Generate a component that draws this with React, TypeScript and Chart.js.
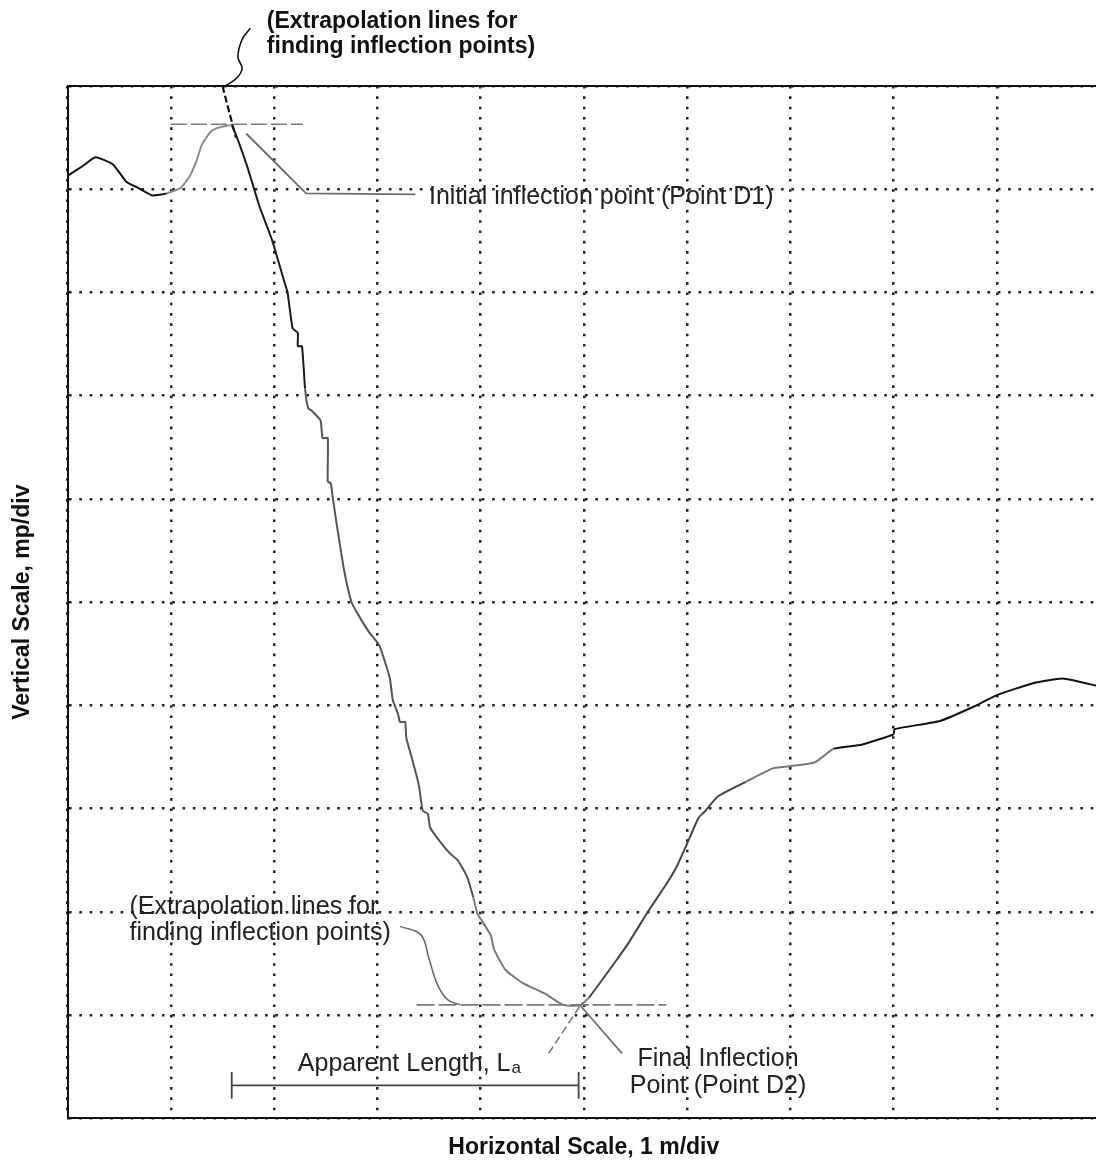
import React, { useEffect, useRef } from "react";
import { Chart, registerables } from "chart.js";

Chart.register(...registerables);

const FONT = '"Liberation Sans", Arial, Helvetica, sans-serif';

// Axis ranges (grid divisions: 1 m/div horizontally, 1 mp/div vertically)
const xRange = [0, 10];
const yRange = [0, 10];
const xAxisTitle = "Horizontal Scale, 1 m/div";
const yAxisTitle = "Vertical Scale, mp/div";

// Measured profile, in grid divisions
const profileX = [
  0, 0.14, 0.27, 0.44, 0.57, 0.67, 0.82, 0.96, 1.09, 1.18, 1.25, 1.3, 1.38, 1.44, 1.52, 1.59,
  1.73, 1.86, 1.98, 2.08, 2.13, 2.18, 2.23, 2.23, 2.27, 2.3, 2.33, 2.37, 2.45, 2.47, 2.52, 2.52,
  2.55, 2.57, 2.62, 2.68, 2.75, 2.82, 2.92, 3.02, 3.12, 3.15, 3.2, 3.22, 3.27, 3.28, 3.34, 3.39,
  3.41, 3.44, 3.49, 3.51, 3.6, 3.7, 3.78, 3.87, 3.93, 3.97, 4.01, 4.1, 4.13, 4.24, 4.41, 4.62,
  4.73, 4.8, 4.9, 4.97, 5.05, 5.3, 5.44, 5.62, 5.8, 5.9, 6.0, 6.11, 6.17, 6.3, 6.57, 6.83, 6.99,
  7.24, 7.42, 7.69, 8.0, 8.01, 8.45, 8.78, 9.0, 9.37, 9.64, 9.97, 10,
];
const profileY = [
  9.13, 9.22, 9.31, 9.24, 9.07, 9.02, 8.94, 8.96, 9.01, 9.12, 9.28, 9.43, 9.55, 9.59, 9.61, 9.62,
  9.25, 8.83, 8.51, 8.17, 8.0, 7.65, 7.61, 7.48, 7.48, 7.07, 6.88, 6.85, 6.76, 6.59, 6.59, 6.17,
  6.15, 6.0, 5.67, 5.3, 5.0, 4.87, 4.71, 4.58, 4.27, 4.05, 3.92, 3.84, 3.84, 3.69, 3.47, 3.28,
  3.18, 2.98, 2.95, 2.82, 2.69, 2.57, 2.5, 2.34, 2.14, 1.98, 1.92, 1.77, 1.64, 1.44, 1.31, 1.21,
  1.14, 1.1, 1.09, 1.1, 1.17, 1.51, 1.71, 2.0, 2.27, 2.44, 2.66, 2.91, 2.97, 3.12, 3.26, 3.39, 3.41,
  3.45, 3.58, 3.62, 3.72, 3.77, 3.85, 3.99, 4.1, 4.22, 4.26, 4.19, 4.18,
];

// Construction / annotation lines (grid divisions)
const topExtrapHX = [1.0, 2.28];
const topExtrapHY = [9.63, 9.63];
const topExtrapSlopeX = [1.5, 1.63];
const topExtrapSlopeY = [10.0, 9.5];
const topBracketX = [1.77, 1.69, 1.65, 1.69, 1.64, 1.53];
const topBracketY = [10.56, 10.45, 10.28, 10.17, 10.08, 10.0];
const d1LeaderX = [1.73, 2.31, 3.37];
const d1LeaderY = [9.54, 8.96, 8.95];
const botExtrapHX = [3.38, 5.8];
const botExtrapHY = [1.1, 1.1];
const botExtrapSlopeX = [4.66, 4.97];
const botExtrapSlopeY = [0.63, 1.1];
const d2LeaderX = [4.96, 5.37];
const d2LeaderY = [1.1, 0.63];
const botBracketX = [3.22, 3.42, 3.5, 3.58, 3.68, 3.8];
const botBracketY = [1.86, 1.78, 1.55, 1.3, 1.15, 1.1];
const lengthBarX = [1.59, 4.95];
const lengthBarY = [0.32, 0.32];
const lengthTickLX = [1.59, 1.59];
const lengthTickRX = [4.95, 4.95];
const lengthTickY = [0.19, 0.45];

// Text annotations
const labelTexts = [
  "(Extrapolation lines for",
  "finding inflection points)",
  "Initial inflection point (Point D1)",
  "(Extrapolation lines for",
  "finding inflection points)",
  "Final Inflection",
  "Point (Point D2)",
];
const labelX = [1.93, 1.93, 3.5, 0.6, 0.6, 6.3, 6.3];
const labelY = [10.62, 10.38, 8.92, 2.05, 1.79, 0.57, 0.31];
const apparentText = "Apparent Length, L";
const apparentSub = "a";
const apparentX = 2.23;
const apparentY = 0.53;

const pts = (xs: number[], ys: number[]) => xs.map((x, i) => ({ x, y: ys[i] }));

function profileColor(x: number): string {
  if (x < 0.85) return "#111";
  if (x < 1.55) return "#8a8a8a";
  if (x < 2.3) return "#1c1c1c";
  if (x < 3.9) return "#555";
  if (x < 5.0) return "#7a7a7a";
  if (x < 6.4) return "#444";
  if (x < 7.3) return "#7a7a7a";
  return "#111";
}

const textPlugin = {
  id: "annotationText",
  afterDatasetsDraw(chart: any) {
    const { ctx } = chart;
    const xs = chart.scales.x;
    const ys = chart.scales.y;
    ctx.save();
    ctx.textBaseline = "middle";
    labelTexts.forEach((t, i) => {
      const top = i < 2;
      ctx.font = top ? `bold 23px ${FONT}` : `25px ${FONT}`;
      ctx.fillStyle = top ? "#111" : "#222";
      ctx.textAlign = i >= 5 ? "center" : "left";
      ctx.fillText(t, xs.getPixelForValue(labelX[i]), ys.getPixelForValue(labelY[i]));
    });
    ctx.font = `25px ${FONT}`;
    ctx.fillStyle = "#222";
    ctx.textAlign = "left";
    const px = xs.getPixelForValue(apparentX);
    const py = ys.getPixelForValue(apparentY);
    ctx.fillText(apparentText, px, py);
    const w = ctx.measureText(apparentText).width;
    ctx.font = `17px ${FONT}`;
    ctx.fillText(apparentSub, px + w + 1, py + 5);
    ctx.restore();
  },
};

export default function App() {
  const ref = useRef<HTMLCanvasElement | null>(null);
  useEffect(() => {
    document.body.style.margin = "0";
    const canvas = ref.current;
    if (!canvas) return;
    const thin = (data: any, color: string, dash: number[] = [], width = 1.6, clip: any = undefined) => ({
      type: "line" as const,
      data,
      borderColor: color,
      borderWidth: width,
      borderDash: dash,
      pointRadius: 0,
      tension: 0,
      fill: false,
      xAxisID: "x",
      yAxisID: "y",
      ...(clip !== undefined ? { clip } : {}),
    });
    const chart = new Chart(canvas, {
      type: "line",
      data: {
        datasets: [
          {
            data: pts(profileX, profileY),
            borderColor: "#222",
            borderWidth: 2,
            pointRadius: 0,
            tension: 0.15,
            fill: false,
            xAxisID: "x",
            yAxisID: "y",
            segment: {
              borderColor: (c: any) => profileColor(c.p0.parsed.x),
            },
          } as any,
          thin(pts(topExtrapHX, topExtrapHY), "#7a7a7a", [16, 4]),
          thin(pts(topExtrapSlopeX, topExtrapSlopeY), "#111", [7, 3], 2.2, false),
          { ...thin(pts(topBracketX, topBracketY), "#111", [], 1.6, false), tension: 0.4 },
          thin(pts(d1LeaderX, d1LeaderY), "#6a6a6a", [], 1.8),
          thin(pts(botExtrapHX, botExtrapHY), "#7a7a7a", [18, 4]),
          thin(pts(botExtrapSlopeX, botExtrapSlopeY), "#7a7a7a", [8, 4]),
          thin(pts(d2LeaderX, d2LeaderY), "#6a6a6a"),
          { ...thin(pts(botBracketX, botBracketY), "#6a6a6a"), tension: 0.4 },
          thin(pts(lengthBarX, lengthBarY), "#444", [], 1.8),
          thin(pts(lengthTickLX, lengthTickY), "#444", [], 1.8),
          thin(pts(lengthTickRX, lengthTickY), "#444", [], 1.8),
        ],
      },
      options: {
        responsive: false,
        animation: false,
        layout: { padding: { left: 0, top: 86, right: 4, bottom: 0 } },
        plugins: {
          legend: { display: false },
          tooltip: { enabled: false },
        },
        scales: {
          x: {
            type: "linear",
            position: "bottom",
            min: xRange[0],
            max: xRange[1],
            ticks: { display: false, stepSize: 1 },
            grid: { color: "#222", lineWidth: 2.5, drawTicks: false },
            border: { display: true, color: "#111", width: 2, dash: [2.6, 7.72] },
            title: {
              display: true,
              text: xAxisTitle,
              color: "#111",
              font: { family: FONT, size: 23, weight: "bold", lineHeight: 1.2 },
              padding: { top: 15, bottom: 2 },
            },
          },
          xTop: {
            type: "linear",
            position: "top",
            min: xRange[0],
            max: xRange[1],
            ticks: { display: false },
            grid: { display: false, drawTicks: false },
            border: { display: true, color: "#111", width: 2 },
          },
          y: {
            type: "linear",
            position: "left",
            min: yRange[0],
            max: yRange[1],
            ticks: { display: false, stepSize: 1 },
            grid: { color: "#222", lineWidth: 2.5, drawTicks: false },
            border: { display: true, color: "#111", width: 2, dash: [2.6, 7.72] },
            title: {
              display: true,
              text: yAxisTitle,
              color: "#111",
              font: { family: FONT, size: 23, weight: "bold", lineHeight: 1.2 },
              padding: { top: 9, bottom: 31 },
            },
          },
        },
      } as any,
      plugins: [textPlugin],
    });
    return () => chart.destroy();
  }, []);
  return (
    <div style={{ width: 1096, height: 1163, overflow: "hidden", background: "#fff" }}>
      <canvas ref={ref} width={1104} height={1163} style={{ display: "block" }} />
    </div>
  );
}
